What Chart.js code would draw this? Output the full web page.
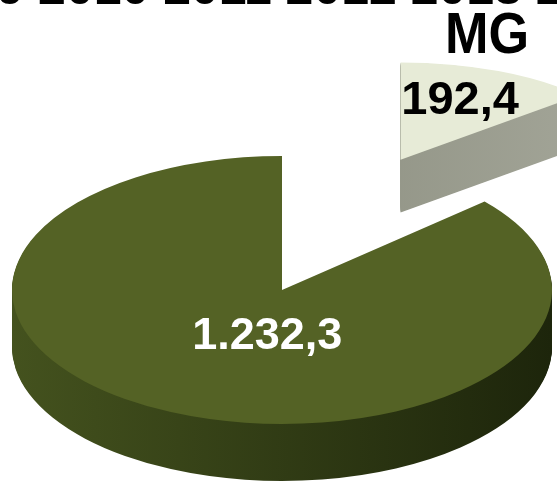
<!DOCTYPE html>
<html>
<head>
<meta charset="utf-8">
<script src="https://cdn.jsdelivr.net/npm/chart.js@4.4.1/dist/chart.umd.min.js"></script>
<style>
  html, body { margin: 0; padding: 0; background: #fff; overflow: hidden; }
  #wrap { position: relative; width: 557px; height: 488px; }
  #years, #region {
    position: absolute; white-space: pre; color: #000;
    font-family: "Liberation Sans", Arial, sans-serif; font-weight: bold;
  }
  #years { left: -87px; top: -38px; font-size: 50px; line-height: 50px; }
  #region {
    left: 445px; top: 4px; font-size: 58px; line-height: 58px;
    transform: scaleX(0.9); transform-origin: left top;
  }
  canvas { position: absolute; left: 0; top: 0; }
</style>
</head>
<body>
<div id="wrap">
  <canvas id="chart" width="557" height="488"></canvas>
  <div id="years">2009 2010 2011 2012 2013 2014</div>
  <div id="region">MG</div>
</div>
<script>
// data
const categories = ['MG', 'Demais'];
const values = [192.4, 1232.3];

// look
const topColors = ['#e7ebd7', '#546225'];
const sideColors = [['#858879', '#a6a89b'], ['#44521e', '#1d250b']];
const labelColors = ['#000000', '#ffffff'];
const labelFonts = ['bold 47px "Liberation Sans", Arial', 'bold 45px "Liberation Sans", Arial'];
const labelFrac = [0.66, 0.385];
const labelNudge = [-5, 28];
const explode = [288, 0];
const sliceScale = [0.88, 1];
const sliceTilt = [0.41, 0.496];
const tilt = 0.496;
const depth = [60, 57];

function fmt(v) {
  const parts = v.toFixed(1).split('.');
  return parts[0].replace(/\B(?=(\d{3})+(?!\d))/g, '.') + ',' + parts[1];
}

function drawArcAs(arc, ctx, color) {
  const tmp = Object.create(arc);
  tmp.options = Object.assign({}, arc.options, { backgroundColor: color, borderWidth: 0 });
  arc.draw.call(tmp, ctx);
}

// where the slice's tip lands on screen (explosion on the ground plane)
function tipOf(arc, i) {
  const mid = (arc.startAngle + arc.endAngle) / 2;
  return {
    x: arc.x + Math.cos(mid) * explode[i],
    y: arc.y + Math.sin(mid) * explode[i] * tilt
  };
}

function placeArc(ctx, arc, i, dy) {
  const tip = tipOf(arc, i);
  const s = sliceScale[i];
  ctx.translate(tip.x, tip.y + dy * s);
  ctx.scale(s, s * sliceTilt[i]);
  ctx.translate(-arc.x, -arc.y);
}

const pie3d = {
  id: 'pie3d',
  beforeDatasetsDraw(chart) {
    const ctx = chart.ctx;
    const arcs = chart.getDatasetMeta(0).data;
    arcs.forEach((arc, i) => {
      const r = arc.outerRadius;
      const grad = ctx.createLinearGradient(arc.x - r, 0, arc.x + r, 0);
      grad.addColorStop(0, sideColors[i][0]);
      grad.addColorStop(1, sideColors[i][1]);
      // side of the slice
      for (let d = depth[i]; d > 0; d--) {
        ctx.save();
        placeArc(ctx, arc, i, d);
        drawArcAs(arc, ctx, grad);
        ctx.restore();
      }
      // top face
      ctx.save();
      placeArc(ctx, arc, i, 0);
      arc.draw(ctx);
      ctx.restore();
    });
    return false;
  },
  afterDraw(chart) {
    const ctx = chart.ctx;
    const arcs = chart.getDatasetMeta(0).data;
    arcs.forEach((arc, i) => {
      const mid = (arc.startAngle + arc.endAngle) / 2;
      const tip = tipOf(arc, i);
      const r = arc.outerRadius * labelFrac[i] * sliceScale[i];
      const x = tip.x + Math.cos(mid) * r + labelNudge[i];
      const y = tip.y + Math.sin(mid) * r * sliceTilt[i];
      ctx.save();
      ctx.font = labelFonts[i];
      ctx.fillStyle = labelColors[i];
      ctx.textAlign = 'center';
      ctx.textBaseline = 'middle';
      ctx.fillText(fmt(values[i]), x, y);
      ctx.restore();
    });
  }
};

new Chart(document.getElementById('chart'), {
  type: 'pie',
  data: {
    labels: categories,
    datasets: [{
      data: values,
      backgroundColor: topColors,
      borderWidth: 0,
      radius: 270
    }]
  },
  options: {
    responsive: false,
    animation: false,
    events: [],
    layout: { padding: { left: 7, right: 0, top: 92, bottom: 0 } },
    plugins: {
      legend: { display: false },
      tooltip: { enabled: false }
    }
  },
  plugins: [pie3d]
});
</script>
</body>
</html>
